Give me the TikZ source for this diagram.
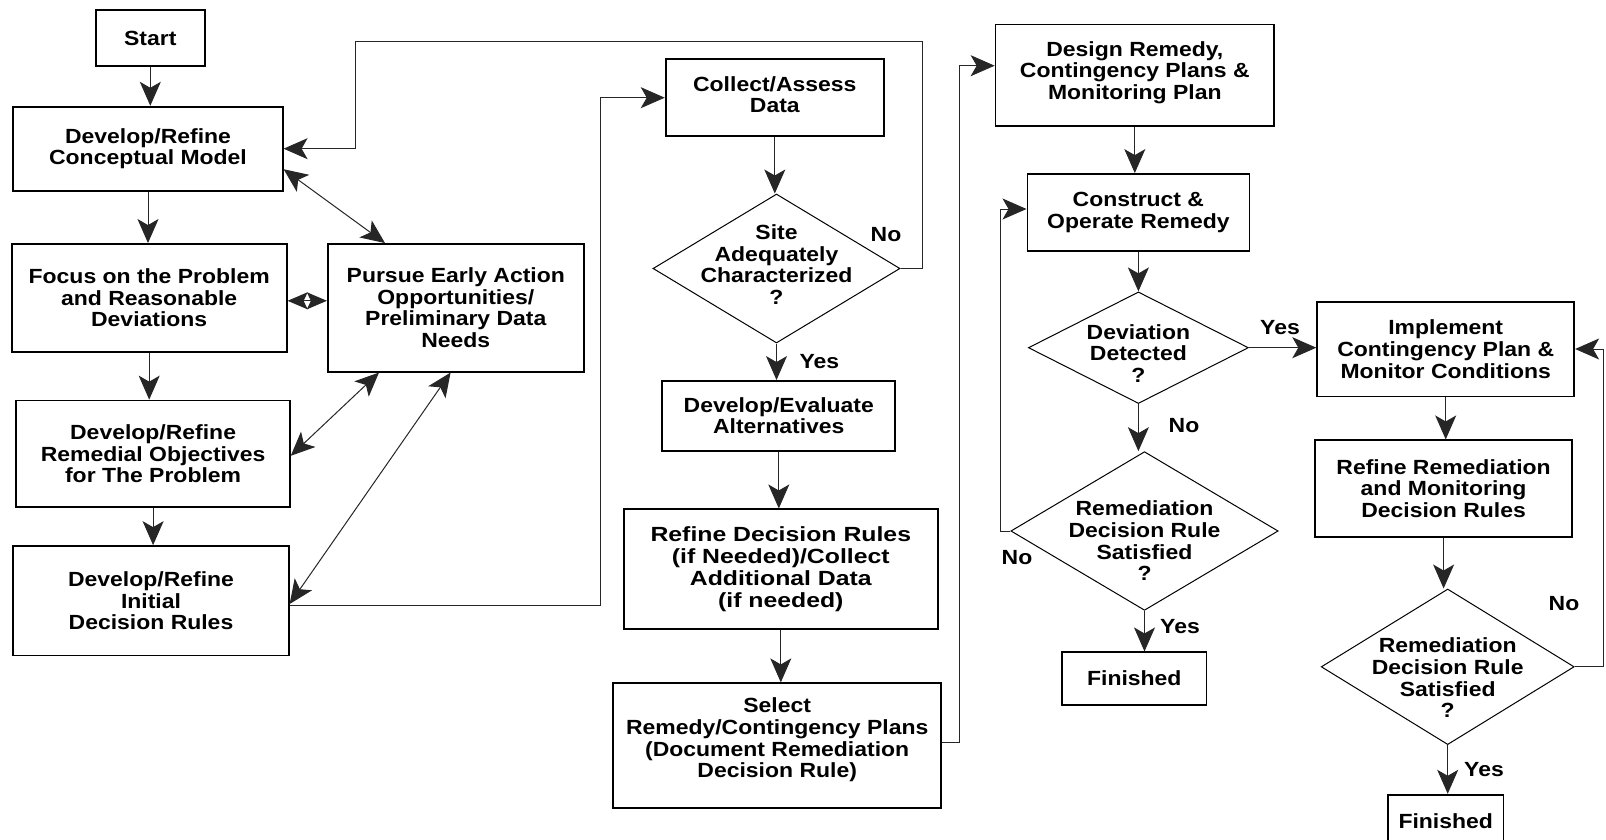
\documentclass[tikz,border=0pt]{standalone}
\usepackage{fontspec}
\setmainfont{Liberation Sans}[FakeStretch=1.12]
\newfontfamily\widefont{Liberation Sans}[FakeStretch=1.21]
\usetikzlibrary{shapes.geometric,arrows.meta,calc}
\tikzset{
  txt/.style={font={\fontsize{20.5pt}{21.7pt}\selectfont\bfseries}, align=center},
  box/.style={txt, draw, line width=1.8pt, inner sep=0pt},
  dia/.style={draw, line width=1pt, shape=diamond, inner sep=0pt, aspect=1.6},
  lab/.style={txt},
  con/.style={line width=1pt, draw=black!85},
  tip/.style={Stealth[length=24pt,width=21pt,inset=6pt]},
  arr/.style={con, -{Stealth[length=24pt,width=21pt,inset=6pt]}},
  dbl/.style={con, {Stealth[length=24pt,width=21pt,inset=6pt]}-{Stealth[length=24pt,width=21pt,inset=6pt]}},
  sdbl/.style={con, {Stealth[length=20pt,width=17pt,inset=4pt]}-{Stealth[length=20pt,width=17pt,inset=4pt]}},
}
\begin{document}
\begin{tikzpicture}[x=1pt,y=-1pt]
\useasboundingbox (0,0) rectangle (1606,840);
\clip (0,0) rectangle (1606,840);
% left column
\node[box, minimum width=109pt, minimum height=56pt] (start) at (150.3,38) {Start};
\node[box, minimum width=269.4pt, minimum height=84pt] (cm) at (148,148.7) {Develop/Refine\\Conceptual Model};
\node[box, minimum width=275pt, minimum height=107.7pt] (focus) at (149.2,297.8) {Focus on the Problem\\and Reasonable\\Deviations};
\node[box, minimum width=256pt, minimum height=127.7pt] (pursue) at (455.8,307.8) {Pursue Early Action\\Opportunities/\\Preliminary Data\\Needs};
\node[box, minimum width=273.5pt, minimum height=106.5pt] (remedial) at (153.1,453.8) {Develop/Refine\\Remedial Objectives\\for The Problem};
\node[box, minimum width=275.5pt, minimum height=109.5pt] (initial) at (151,600.8) {Develop/Refine\\Initial\\Decision Rules};
% middle column
\node[box, minimum width=218.3pt, minimum height=76.7pt] (collect) at (774.8,97.7) {Collect/Assess\\Data\\[-15.7pt]};
\node[dia, minimum width=247pt, minimum height=149pt, label={[txt, yshift=4pt]center:Site\\Adequately\\Characterized\\?}] (site) at (776.5,268.5) {};
\node[box, minimum width=233pt, minimum height=69.7pt] (deveval) at (778.8,415.8) {Develop/Evaluate\\Alternatives};
\node[box, minimum width=313.7pt, minimum height=119.7pt, font={\fontsize{20.5pt}{21.7pt}\selectfont\widefont\bfseries}] (refdec) at (780.8,569.2) {Refine Decision Rules\\(if Needed)/Collect\\Additional Data\\(if needed)};
\node[box, minimum width=327.7pt, minimum height=125pt] (select) at (777.2,745.8) {Select\\Remedy/Contingency Plans\\(Document Remediation\\Decision Rule)\\[-5.7pt]};
% third column
\node[box, minimum width=278.5pt, minimum height=101.4pt] (design) at (1134.8,75.3) {Design Remedy,\\Contingency Plans \&\\Monitoring Plan\\[-11.7pt]};
\node[box, minimum width=222pt, minimum height=77pt] (construct) at (1138.4,212.5) {Construct \&\\Operate Remedy};
\node[dia, minimum width=220pt, minimum height=111.6pt, label={[txt, yshift=-5.6pt]center:Deviation\\Detected\\?}] (deviation) at (1138.4,347.7) {};
\node[dia, minimum width=267.3pt, minimum height=158.7pt, label={[txt, yshift=-9.8pt]center:Remediation\\Decision Rule\\Satisfied\\?}] (remone) at (1144.5,531) {};
\node[box, minimum width=144.5pt, minimum height=52.3pt] (finone) at (1134.3,678.5) {Finished};
% right column
\node[box, minimum width=257pt, minimum height=94.3pt] (implement) at (1445.7,349.3) {Implement\\Contingency Plan \&\\Monitor Conditions};
\node[box, minimum width=257pt, minimum height=96.3pt] (refrem) at (1443.6,488.5) {Refine Remediation\\and Monitoring\\Decision Rules};
\node[dia, minimum width=253pt, minimum height=155.6pt, label={[txt, yshift=-11pt]center:Remediation\\Decision Rule\\Satisfied\\?}] (remtwo) at (1447.7,666.8) {};
\node[box, minimum width=115.7pt, minimum height=53pt, anchor=north] (fintwo) at (1445.7,793.8) {Finished};
% free corners
\coordinate (loopA) at (922.7,41.7);
\coordinate (loopB) at (355,41.7);
\coordinate (selA) at (959.3,65.7);
\coordinate (noL) at (1000,531);
\coordinate (noR) at (1603,349);
% connectors left
\draw[arr] (start.south) -- (start.south |- cm.north);
\draw[arr] (cm.south) -- (cm.south |- focus.north);
\draw[arr] (focus.south) -- (focus.south |- remedial.north);
\draw[arr] (remedial.south) -- (remedial.south |- initial.north);
\draw[dbl] ([yshift=22.4pt]cm.south east) -- ([xshift=-70.8pt]pursue.north);
\draw[sdbl] ([yshift=-3pt]focus.east) -- ([yshift=-3pt]focus.east -| pursue.west);
\draw[dbl] ([yshift=-2pt]remedial.east) -- ([xshift=-76.8pt]pursue.south);
\draw[dbl] ([yshift=-3.2pt]initial.east) -- ([xshift=-5.2pt]pursue.south);
\draw[arr] ([yshift=-4.5pt]initial.east) -| ([xshift=-64.5pt]collect.west) -- (collect.west);
% middle
\draw[arr] (collect.south) -- (collect.south |- site.north);
\draw[arr] (site.east) -| (loopA) -- (loopB) |- (cm.east);
\draw[arr] (site.south) -- (site.south |- deveval.north);
\draw[arr] (deveval.south) -- (deveval.south |- refdec.north);
\draw[arr] (refdec.south) -- (refdec.south |- select.north);
\draw[arr] ([yshift=3pt]select.east) -| (selA) -- (selA -| design.west);
% third
\draw[arr] (design.south) -- (design.south |- construct.north);
\draw[arr] (construct.south) -- (construct.south |- deviation.north);
\draw[arr] (deviation.south) -- (deviation.south |- remone.north);
\draw[arr] (deviation.east) -- (deviation.east -| implement.west);
\draw[arr] (remone.west) -- (noL) |- ([yshift=3.5pt]construct.west);
\draw[arr] (remone.south) -- (remone.south |- finone.north);
% right
\draw[arr] (implement.south) -- (implement.south |- refrem.north);
\draw[arr] (refrem.south) -- (refrem.south |- remtwo.north);
\draw[arr] (remtwo.south) -- (remtwo.south |- fintwo.north);
\draw[arr] (remtwo.east) -| (noR) -- (noR -| implement.east);
% labels
\node[lab] (lsiteno) at (886,234.5) {No};
\node[lab] (lsiteyes) at (819.4,361.5) {Yes};
\node[lab] (ldevno) at (1184,426) {No};
\node[lab] (ldevyes) at (1280,327.8) {Yes};
\node[lab] (lroneno) at (1017,558) {No};
\node[lab] (loneyes) at (1180,627) {Yes};
\node[lab] (lrtwono) at (1564,604) {No};
\node[lab] (lrtwoyes) at (1484,770) {Yes};
\end{tikzpicture}
\end{document}
